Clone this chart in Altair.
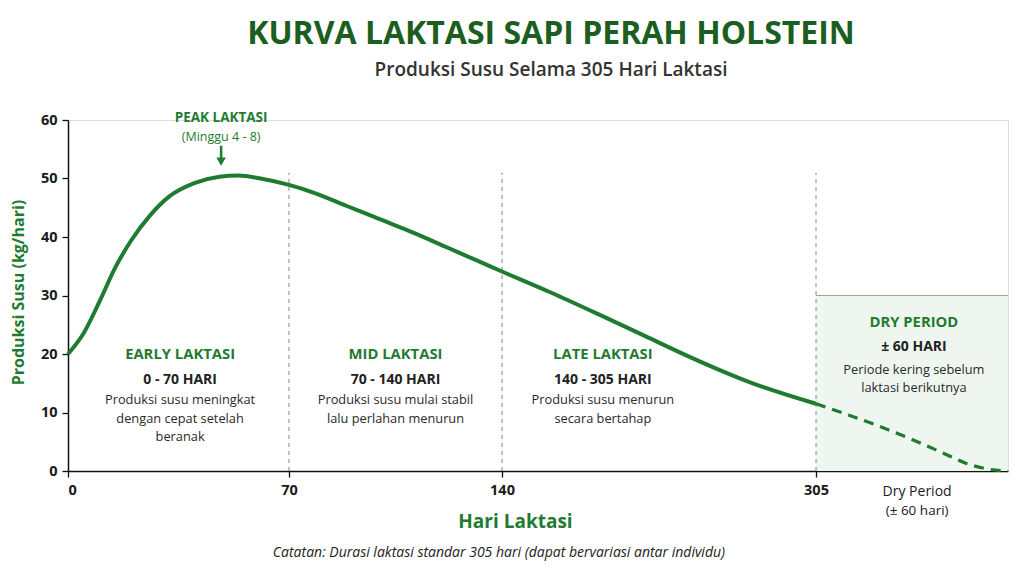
import altair as alt
import pandas as pd

# ---- data ----
lact_days = [0, 5, 10, 15, 20, 26, 32, 40, 48, 54, 61, 70,
             78, 89, 100, 111, 122, 133, 140,
             165, 190, 215, 240, 270, 305]
lact_milk = [20.0, 23.6, 29.0, 34.8, 39.4, 43.7, 46.9, 49.2, 50.3, 50.5, 50.0, 48.9,
             47.6, 45.3, 43.0, 40.7, 38.2, 35.7, 34.1,
             30.6, 26.9, 23.1, 19.3, 15.2, 11.5]
dry_days = [305, 315, 325, 335, 345, 352, 358, 365]
dry_milk = [11.5, 9.6, 7.6, 5.4, 3.0, 1.3, 0.4, 0.0]

phase_bounds = [70, 140, 305]
x_ticks = [0, 70, 140, 305]

head_text = ["EARLY LAKTASI", "MID LAKTASI", "LATE LAKTASI", "DRY PERIOD"]
head_day = [35.5, 105, 193, 335.6]
head_val = [19.8, 19.8, 19.8, 25.3]

range_text = ["0 - 70 HARI", "70 - 140 HARI", "140 - 305 HARI", "± 60 HARI"]
range_val = [15.6, 15.6, 15.6, 21.2]

desc_text = ["Produksi susu meningkat", "dengan cepat setelah", "beranak",
             "Produksi susu mulai stabil", "lalu perlahan menurun",
             "Produksi susu menurun", "secara bertahap",
             "Periode kering sebelum", "laktasi berikutnya"]
desc_day = [35.5, 35.5, 35.5, 105, 105, 193, 193, 335.6, 335.6]
desc_val = [12.1, 8.9, 5.8, 12.1, 8.9, 12.1, 8.9, 17.3, 14.2]

peak_day = 48.5
dry_start, dry_end, dry_top = 305, 365, 30

FONT = "Open Sans"
GREEN = "#1e7b30"
DARK_GREEN = "#1b5e20"

xscale = alt.Scale(domain=[0, 70, 140, 305, 365], range=[0, 221, 434, 748, 940], nice=False)
yscale = alt.Scale(domain=[0, 60], nice=False)

lact_df = pd.DataFrame({"day": lact_days, "milk": lact_milk})
dry_df = pd.DataFrame({"day": dry_days, "milk": dry_milk})

# shaded dry period box
box = alt.Chart(pd.DataFrame({"x1": [dry_start], "x2": [dry_end], "y1": [0], "y2": [dry_top]})).mark_rect(
    color="#eef6ef"
).encode(
    x=alt.X("x1:Q", scale=xscale, axis=alt.Axis(
        values=x_ticks, title="Hari Laktasi", labelFont=FONT, labelFontSize=14.5, labelFontWeight="bold",
        labelColor="#1a1a1a", labelPadding=6, tickSize=6, tickColor="#111", domainColor="#111",
        domainWidth=1.5, tickWidth=1.3, grid=False, titleFont=FONT, titleFontSize=19,
        titleFontWeight="bold", titleColor=GREEN, titleX=447, titleY=50, titleBaseline="middle")),
    x2="x2:Q",
    y=alt.Y("y1:Q", scale=yscale, axis=alt.Axis(
        values=[0, 10, 20, 30, 40, 50, 60], title="Produksi Susu (kg/hari)", labelFont=FONT,
        labelFontSize=14.5, labelFontWeight="bold", labelColor="#1a1a1a", labelPadding=5, tickSize=6,
        tickColor="#111", domainColor="#111", domainWidth=1.5, tickWidth=1.3, grid=False,
        titleFont=FONT, titleFontSize=16, titleFontWeight="bold", titleColor=GREEN,
        titleX=-50, titleY=172, titleBaseline="middle", titleAngle=270)),
    y2="y2:Q",
)

box_top = alt.Chart(pd.DataFrame({"x1": [dry_start], "x2": [dry_end], "y": [dry_top]})).mark_rule(
    color="#8fae95", strokeWidth=1.2
).encode(x=alt.X("x1:Q", scale=xscale), x2="x2:Q", y=alt.Y("y:Q", scale=yscale))

vlines = alt.Chart(pd.DataFrame({"d": phase_bounds, "y1": [0] * 3, "y2": [51] * 3})).mark_rule(
    color="#6f8f75", strokeWidth=1, strokeDash=[4, 4]
).encode(x=alt.X("d:Q", scale=xscale), y=alt.Y("y1:Q", scale=yscale), y2="y2:Q")

solid = alt.Chart(lact_df).mark_line(color=GREEN, strokeWidth=4, interpolate="monotone").encode(
    x=alt.X("day:Q", scale=xscale), y=alt.Y("milk:Q", scale=yscale))

dashed = alt.Chart(dry_df).mark_line(color=GREEN, strokeWidth=3.2, strokeDash=[10, 7],
                                     interpolate="monotone").encode(
    x=alt.X("day:Q", scale=xscale), y=alt.Y("milk:Q", scale=yscale))

def texts(days, vals, txt, size, weight, color, style="normal"):
    df = pd.DataFrame({"day": days, "val": vals, "t": txt})
    return alt.Chart(df).mark_text(font=FONT, fontSize=size, fontWeight=weight, color=color,
                                   fontStyle=style, align="center", baseline="middle").encode(
        x=alt.X("day:Q", scale=xscale), y=alt.Y("val:Q", scale=yscale), text="t:N")

heads = texts(head_day, head_val, head_text, 14.8, "bold", GREEN)
ranges = texts(head_day, range_val, range_text, 14, "bold", "#222222")
descs = texts(desc_day, desc_val, desc_text, 12.8, "normal", "#2a2a2a")

peak1 = texts([peak_day], [60.3], ["PEAK LAKTASI"], 13.5, "bold", GREEN)
peak2 = texts([peak_day], [57.1], ["(Minggu 4 - 8)"], 12.5, "normal", GREEN)
arrow_line = alt.Chart(pd.DataFrame({"d": [peak_day], "y1": [55.6], "y2": [53.2]})).mark_rule(
    color=GREEN, strokeWidth=2.5).encode(x=alt.X("d:Q", scale=xscale), y=alt.Y("y1:Q", scale=yscale), y2="y2:Q")
arrow_head = alt.Chart(pd.DataFrame({"d": [peak_day], "y": [52.9]})).mark_point(
    shape="triangle-down", filled=True, color=GREEN, size=90, opacity=1).encode(
    x=alt.X("d:Q", scale=xscale), y=alt.Y("y:Q", scale=yscale))

dry_lab1 = texts([336.6], [-3.6], ["Dry Period"], 14, "normal", "#1a1a1a")
dry_lab2 = texts([336.6], [-6.8], ["(± 60 hari)"], 13.5, "normal", "#1a1a1a")
note = texts([139], [-14], ["Catatan: Durasi laktasi standar 305 hari (dapat bervariasi antar individu)"],
             14, "normal", "#222222", style="italic")

chart = alt.layer(
    box, box_top, vlines, solid, dashed, heads, ranges, descs, peak1, peak2, arrow_line, arrow_head,
    dry_lab1, dry_lab2, note
).properties(
    width=940, height=351,
    title=alt.TitleParams(
        text="KURVA LAKTASI SAPI PERAH HOLSTEIN",
        subtitle="Produksi Susu Selama 305 Hari Laktasi",
        font=FONT, fontSize=32, fontWeight="bold", color=DARK_GREEN,
        subtitleFont=FONT, subtitleFontSize=19, subtitleFontWeight=600, subtitleColor="#333333",
        subtitlePadding=10, anchor="middle", dx=13, offset=30,
    ),
    autosize=alt.AutoSizeParams(type="none"),
    padding={"left": 60, "top": 112, "right": 8, "bottom": 90},
).configure_view(stroke=None).configure(background="white")

chart.save("out.html", embed_options={"renderer": "svg", "actions": False})
